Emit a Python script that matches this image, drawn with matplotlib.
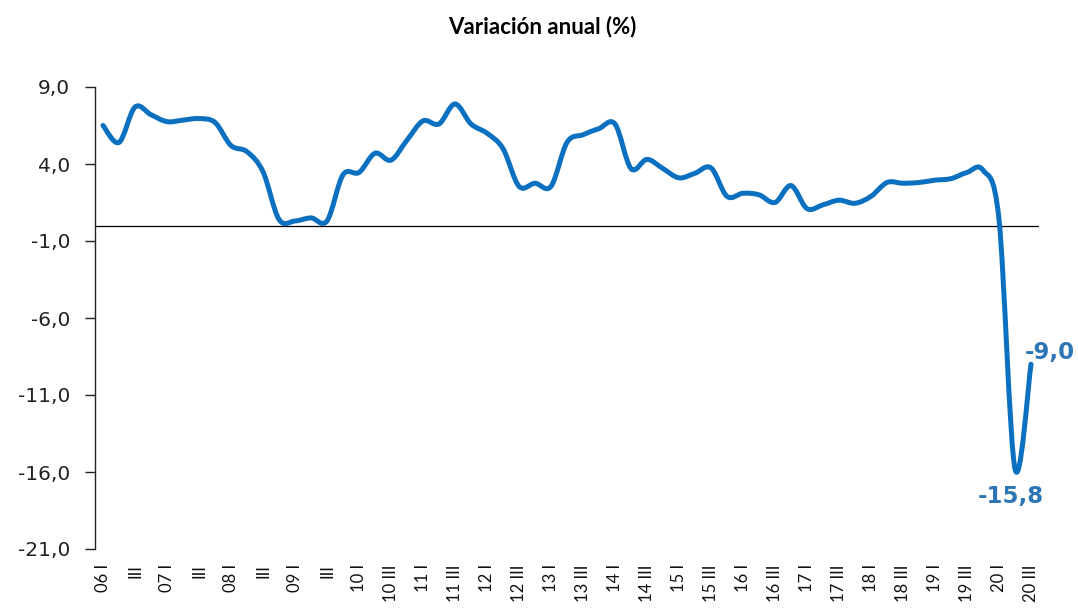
import matplotlib
matplotlib.use("Agg")
import matplotlib.pyplot as plt
from matplotlib.path import Path
from matplotlib.patches import PathPatch
import numpy as np

# datos trimestrales, 2006 T1 - 2020 T3
valores = [
    6.5, 5.4, 7.7, 7.2,      # 2006
    6.75, 6.85, 6.95, 6.7,   # 2007
    5.2, 4.8, 3.5, 0.4,      # 2008
    0.3, 0.5, 0.3, 3.3,      # 2009
    3.45, 4.7, 4.25, 5.55,   # 2010
    6.8, 6.6, 7.9, 6.6,      # 2011
    6.0, 5.0, 2.55, 2.75,    # 2012
    2.55, 5.4, 5.9, 6.3,     # 2013
    6.6, 3.7, 4.3, 3.7,      # 2014
    3.1, 3.4, 3.75, 1.9,     # 2015
    2.1, 2.0, 1.5, 2.6,      # 2016
    1.1, 1.35, 1.65, 1.45,   # 2017
    1.9, 2.8, 2.75, 2.8,     # 2018
    2.95, 3.05, 3.45, 3.6,   # 2019
    0.4, -15.8, -9.0,        # 2020
]
etiquetas = ["06 I", "III", "07 I", "III", "08 I", "III", "09 I", "III",
             "10 I", "10 III", "11 I", "11 III", "12 I", "12 III",
             "13 I", "13 III", "14 I", "14 III", "15 I", "15 III",
             "16 I", "16 III", "17 I", "17 III", "18 I", "18 III",
             "19 I", "19 III", "20 I", "20 III"]
y_ticks = [9, 4, -1, -6, -11, -16, -21]
titulo = "Variación anual (%)"

azul = "#0C70C0"
azul_txt = "#2E75B6"

y = np.array(valores)
x = np.arange(len(y))

fig = plt.figure(figsize=(10.78, 6.08), dpi=100)
ax = fig.add_axes([95 / 1078, 1 - 549 / 608, (1039 - 95) / 1078, (549 - 87) / 608])

# linea suavizada tipo Excel (bezier por los puntos)
pts = np.column_stack([x, y]).astype(float)
ext = np.vstack([pts[0], pts, pts[-1]])
verts = [tuple(pts[0])]
codes = [Path.MOVETO]
for i in range(len(pts) - 1):
    p0, p1, p2, p3 = ext[i], ext[i + 1], ext[i + 2], ext[i + 3]
    c1 = p1 + (p2 - p0) / 6
    c2 = p2 - (p3 - p1) / 6
    verts += [tuple(c1), tuple(c2), tuple(p2)]
    codes += [Path.CURVE4] * 3
ax.add_patch(PathPatch(Path(verts, codes), facecolor="none", edgecolor=azul,
                       lw=3.6, capstyle="round", joinstyle="round", zorder=3))

ax.axhline(0, color="black", lw=0.9, zorder=2)

ax.set_xlim(-0.5, len(y) - 0.5)
ax.set_ylim(-21, 9)

ax.set_yticks(y_ticks)
ax.set_yticklabels([f"{v:.1f}".replace(".", ",") for v in y_ticks],
                   fontsize=14.5, color="#222222", family="DejaVu Sans")
ax.tick_params(axis="y", length=7, width=1, pad=11, color="#222222")

ax.set_xticks(x[::2])
ax.set_xticklabels(etiquetas, rotation=90, fontsize=12, family="Lato",
                   color="#111111")
ax.tick_params(axis="x", length=0, pad=11)

for s in ["top", "right", "bottom"]:
    ax.spines[s].set_visible(False)
ax.spines["left"].set_color("#222222")
ax.spines["left"].set_linewidth(1)

ax.annotate(f"{valores[-1]:.1f}".replace(".", ","), (x[-1], y[-1]),
            xytext=(19, 12), textcoords="offset pixels", ha="center",
            va="center", fontsize=16.5, fontweight="bold", color=azul_txt,
            family="DejaVu Sans", annotation_clip=False)
imin = int(np.argmin(y))
ax.annotate(f"{valores[imin]:.1f}".replace(".", ","), (x[imin], y[imin]),
            xytext=(-4, -28), textcoords="offset pixels", ha="center",
            va="center", fontsize=16.5, fontweight="bold", color=azul_txt,
            family="DejaVu Sans", annotation_clip=False)

fig.text(542 / 1078, 1 - 27 / 608, titulo, ha="center", va="center",
         fontsize=16, fontweight="bold", family="Lato")

fig.savefig("out.png", dpi=100)
